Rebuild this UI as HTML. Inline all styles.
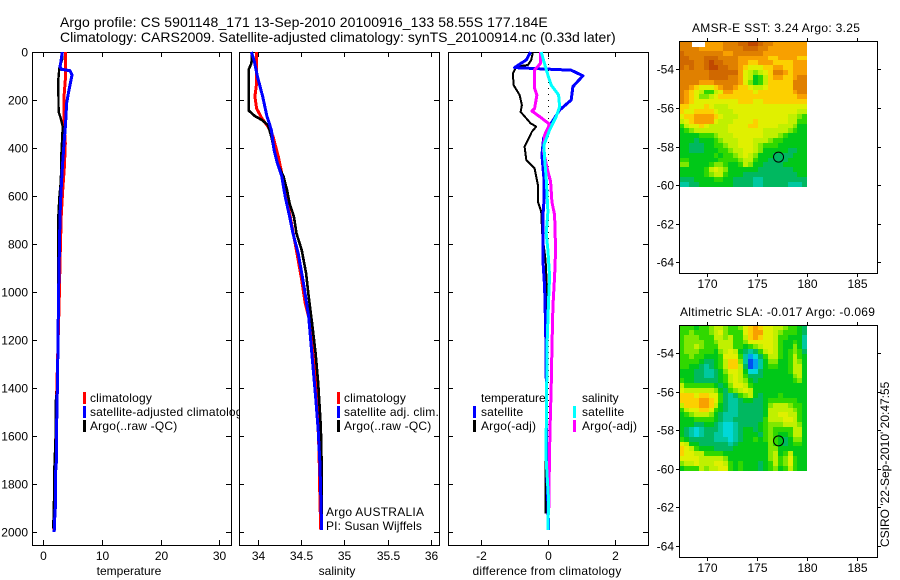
<!DOCTYPE html>
<html lang="en">
<head>
<meta charset="utf-8">
<title>Argo profile CS 5901148_171</title>
<style>
html,body{margin:0;padding:0;background:#fff;}
svg{display:block;}
text{font-family:"Liberation Sans",sans-serif;font-size:12px;fill:#000;}
.title{font-size:14px;}
.wide{letter-spacing:0.3px;}
</style>
</head>
<body>
<svg id="chart" xmlns="http://www.w3.org/2000/svg" width="900" height="580" viewBox="0 0 900 580">
<rect width="900" height="580" fill="#fff"/>
<text class="title" style="letter-spacing:0.09px" x="60" y="27">Argo profile: CS 5901148_171 13-Sep-2010 20100916_133 58.55S 177.184E</text>
<text class="title" x="60" y="42">Climatology: CARS2009. Satellite-adjusted climatology: synTS_20100914.nc (0.33d later)</text>
<text class="wide" x="692" y="32">AMSR-E SST: 3.24 Argo: 3.25</text>
<text class="wide" x="680" y="316">Altimetric SLA: -0.017 Argo: -0.069</text>
<text transform="translate(889,547) rotate(-90)">CSIRO '22-Sep-2010' 20:47:55</text>
</svg>
<script>
// ---------- axis tick data ----------
var depthTicks = [0,200,400,600,800,1000,1200,1400,1600,1800,2000];
var tempTicks = [0,10,20,30];
var salTicks = [34,34.5,35,35.5,36];
var diffTicks = [-2,0,2];
var lonTicks = [170,175,180,185];
var latTicks = [-54,-56,-58,-60,-62,-64];

// ---------- temperature panel ----------
var tempClimDepth = [0,117,186,283,380,478,575,686,875,1000,1500,2000];
var tempClimVals = [3.75,3.75,3.53,3.5,3.75,3.6,3.3,3.05,2.85,2.75,2.2,1.85];
var tempArgoDepth = [0,33,68,117,249,276,311,367,436,533,603,686,800,1000,1400,1460,1600,1730,1800,1960,1985];
var tempArgoVals = [3.24,3.2,2.73,2.56,2.6,2.96,3.3,3.2,3.05,3.0,2.75,2.56,2.5,2.55,2.39,2.1,2.1,1.9,1.9,1.72,1.72];
var tempSatDepth = [0,40,61,72,78,96,158,214,297,394,478,589,686,1000,1400,1500,1700,1750,1900,1950,2000];
var tempSatVals = [3.24,3.0,2.85,3.1,4.55,4.9,4.38,3.98,3.8,3.5,3.25,3.0,2.85,2.6,2.4,2.3,2.25,2.1,2.05,1.93,1.85];

// ---------- salinity panel ----------
var salClimDepth = [0,131,186,235,276,311,353,436,506,575,672,867,950,1047,1131,1269,1394,1672,1867,1992];
var salClimVals = [33.99,33.99,33.97,33.99,34.05,34.12,34.18,34.24,34.28,34.32,34.37,34.47,34.51,34.55,34.61,34.64,34.68,34.71,34.72,34.73];
var salArgoDepth = [0,47,72,244,267,283,304,353,422,464,519,575,631,686,756,825,922,1019,1131,1256,1380,1561,1728,1992];
var salArgoVals = [33.94,33.93,33.90,33.90,33.97,34.05,34.12,34.16,34.2,34.23,34.30,34.34,34.37,34.42,34.45,34.51,34.56,34.59,34.63,34.67,34.70,34.73,34.74,34.74];
var salSatDepth = [0,33,103,186,269,325,408,464,519,603,686,756,839,964,1103,1269,1436,1575,1714,1992];
var salSatVals = [33.93,33.96,34.0,34.06,34.11,34.16,34.19,34.23,34.28,34.32,34.37,34.41,34.47,34.53,34.59,34.63,34.67,34.70,34.72,34.74];

// ---------- difference panel ----------
var diffTempArgoDepth = [0,33,54,61,89,138,179,221,249,297,311,332,394,450,485,554,624,665,756,867,978,1172,1589,1728,1922];
var diffTempArgoVals = [-0.45,-0.5,-0.6,-0.95,-1.05,-1.03,-0.85,-0.78,-0.82,-0.52,-0.35,-0.48,-0.7,-0.65,-0.4,-0.3,-0.3,-0.2,-0.17,-0.07,-0.03,-0.07,-0.05,-0.07,-0.07];
var diffTempSatDepth = [0,33,65,76,99,144,200,242,297,360,429,526,624,686,867,978,1144,1311,1700,1992];
var diffTempSatVals = [-0.52,-0.65,-1.0,0.70,1.05,0.75,0.70,0.35,0.10,-0.13,-0.18,-0.12,-0.12,-0.15,-0.15,-0.1,-0.07,-0.05,-0.04,0.02];
var diffSalArgoDepth = [0,47,75,151,179,235,246,269,301,346,415,485,540,624,679,825,936,1061,1242,1394,1589,1839,1900];
var diffSalArgoVals = [-0.22,-0.22,-0.4,-0.4,-0.33,-0.4,-0.48,-0.25,0.05,-0.1,-0.13,-0.02,0.08,0.12,0.2,0.23,0.2,0.15,0.12,0.1,0.06,0.03,0.03];
var diffSalSatDepth = [0,40,96,138,179,228,269,325,388,443,526,665,756,825,936,1033,1200,1589,1700,1867,1992];
var diffSalSatVals = [-0.2,-0.12,0,0.1,0.32,0.35,0.25,0.05,-0.12,-0.1,-0.05,0,-0.05,0,0.05,0.02,-0.02,-0.05,-0.05,0.02,0];

// ---------- map data (colour-level per 0.5 degree cell, rows north to south) ----------
var sstLevels = [
[9,9,9,8,8,8,8,8,8,9,9,9,10,10,11,11,10,9,9,8,8,8,8,8,8,8],
[9,9,9,9,8,8,8,8,8,9,9,9,9,10,10,10,9,9,8,8,8,8,8,8,8,8],
[10,9,9,9,9,9,9,9,9,8,8,9,9,9,9,9,9,8,8,8,8,8,8,8,8,8],
[10,10,9,9,9,10,10,10,9,9,9,9,8,8,8,8,8,8,7,7,8,8,8,8,7,7],
[10,10,10,9,9,10,11,10,10,9,9,9,8,8,7,7,8,8,8,7,7,7,7,8,8,8],
[10,9,10,9,9,10,11,11,10,10,9,9,8,7,6,6,6,7,7,8,8,7,7,8,8,8],
[9,9,9,9,9,9,10,10,10,10,10,10,8,6,5,4,5,6,7,9,9,8,7,8,8,8],
[9,9,9,9,9,9,10,10,10,10,9,9,8,6,5,2,3,5,7,8,8,7,7,8,9,9],
[9,9,9,9,8,8,8,9,9,9,9,9,8,6,4,2,3,5,7,7,7,7,7,9,9,9],
[9,9,8,7,6,6,6,7,8,9,9,8,7,7,6,5,5,6,7,7,7,7,7,9,9,9],
[9,8,7,6,5,3,3,5,6,8,8,7,7,7,7,6,7,7,7,7,7,7,7,8,9,9],
[9,8,7,6,4,4,5,6,7,7,7,7,7,7,7,7,7,7,7,7,7,7,7,7,8,8],
[9,8,7,6,6,6,6,6,6,6,6,6,7,7,7,6,6,7,7,7,7,7,7,7,7,7],
[7,7,6,6,6,7,6,5,5,5,6,6,6,6,6,6,6,6,6,6,6,6,6,6,6,6],
[7,6,6,7,7,7,7,6,5,5,5,6,6,6,6,6,6,6,6,6,6,6,6,6,5,5],
[6,7,7,8,8,8,8,7,6,5,5,5,6,6,6,6,6,6,6,6,6,6,5,5,4,3],
[5,6,7,8,8,8,8,6,5,5,5,6,6,6,6,7,6,6,6,6,6,6,5,5,3,3],
[3,5,6,6,7,6,5,5,5,5,6,6,6,6,7,7,6,6,6,6,5,5,5,4,2,2],
[2,3,4,5,5,5,5,5,5,5,6,6,6,6,6,6,6,5,5,5,5,5,4,3,2,2],
[2,2,2,2,3,3,3,4,5,5,5,6,6,6,6,6,6,5,5,5,4,3,2,2,2,2],
[2,2,2,1,2,2,2,3,4,5,5,5,6,6,6,5,5,5,4,3,3,2,2,2,2,2],
[2,2,1,1,1,2,2,3,3,4,5,5,6,6,6,5,4,3,3,3,2,2,2,2,2,2],
[2,2,1,1,1,2,2,2,3,3,4,5,5,6,6,5,4,2,2,2,2,2,1,1,2,2],
[2,2,2,2,2,2,2,3,2,3,3,4,5,6,5,4,2,2,2,1,1,1,1,2,2,2],
[3,3,2,2,2,2,2,2,3,3,3,3,4,5,5,3,2,2,1,1,1,1,2,2,2,2],
[4,4,2,2,2,2,3,4,4,3,2,2,3,5,4,2,2,1,1,1,1,2,2,2,2,2],
[2,2,2,2,2,3,5,6,5,4,2,2,2,2,2,2,1,1,1,1,1,1,1,2,2,2],
[2,2,2,2,2,3,4,5,5,3,2,2,2,1,1,1,1,1,1,1,1,1,1,1,2,2],
[1,1,1,2,2,2,2,3,3,2,2,1,1,1,1,0,0,1,1,1,1,1,1,1,1,1],
[0,0,1,1,2,2,2,2,2,2,2,1,1,1,1,0,0,1,1,1,1,1,0,0,0,1]
];
var slaLevels = [
[3,3,3,2,3,3,4,5,5,4,3,3,4,6,7,8,7,6,6,5,5,4,3,3,2,1],
[3,3,4,3,3,3,4,5,6,4,3,3,3,6,7,8,8,6,6,5,4,3,3,3,2,1],
[3,4,4,4,3,3,3,5,5,4,5,3,3,5,7,8,7,6,6,5,3,3,2,2,2,0],
[3,4,4,4,4,3,3,4,5,5,5,3,3,4,6,6,6,6,6,5,3,2,2,3,2,0],
[3,4,4,5,4,3,3,3,5,5,5,3,3,2,3,4,5,6,6,5,3,2,2,4,2,0],
[3,4,4,4,3,3,3,2,4,5,6,5,2,1,0,1,3,5,6,5,3,2,3,4,3,1],
[3,3,4,3,3,2,2,2,3,6,6,6,3,0,-2,-1,1,3,5,5,3,2,3,5,3,2],
[3,3,3,3,2,1,1,2,3,5,7,7,4,0,-3,-2,0,2,4,4,2,2,3,5,4,2],
[3,3,2,2,1,0,1,2,3,5,7,7,5,1,-3,-2,0,2,3,3,2,2,3,5,5,2],
[2,2,2,1,1,0,0,1,2,4,6,6,5,2,-1,-1,1,2,2,2,2,2,3,5,5,2],
[2,2,2,1,1,0,0,1,2,3,5,6,5,3,1,1,1,2,2,2,2,2,2,4,5,2],
[3,2,2,1,1,1,1,1,2,3,5,6,5,4,2,1,2,2,2,2,2,2,2,3,4,2],
[5,3,3,3,3,3,3,2,1,2,4,6,6,5,3,2,2,2,2,2,2,2,2,2,2,2],
[6,5,5,5,5,5,5,4,2,1,3,4,5,6,5,2,2,2,2,2,2,2,2,2,2,2],
[7,7,7,6,7,7,6,6,3,1,0,1,3,4,5,2,1,2,2,2,3,2,2,2,2,2],
[7,7,7,7,8,8,7,6,3,1,0,0,1,2,2,1,1,2,3,3,3,3,3,3,2,2],
[5,7,7,7,8,8,7,5,2,1,0,0,1,1,1,1,1,2,4,5,5,5,4,3,3,2],
[3,5,6,6,7,7,6,3,2,1,0,0,1,1,1,1,1,2,5,5,5,5,5,4,3,2],
[2,3,4,5,5,5,4,2,1,0,0,0,1,1,1,1,1,2,5,5,6,6,5,5,3,2],
[2,2,2,3,3,3,3,2,1,0,0,1,1,1,1,1,1,3,5,5,5,6,6,5,3,2],
[2,2,2,1,1,2,2,1,0,-1,-1,0,1,1,1,1,2,3,4,4,4,5,5,5,4,2],
[2,1,0,-1,0,1,1,1,0,-1,-1,0,1,2,2,1,2,3,4,3,3,3,3,5,5,2],
[2,1,0,-1,0,1,1,0,0,-1,-1,0,1,2,2,2,1,3,4,3,2,2,3,5,5,2],
[3,2,1,1,1,1,1,0,0,0,-1,0,1,2,2,3,2,3,4,3,2,1,2,4,4,2],
[6,5,2,2,1,1,1,1,1,1,0,1,2,2,2,2,2,2,4,3,2,1,2,3,3,2],
[7,6,5,3,2,2,2,1,1,1,1,2,2,2,2,2,2,2,4,4,2,2,2,2,2,2],
[7,6,6,5,5,3,3,3,3,2,2,2,2,2,2,2,2,2,4,5,2,3,5,2,2,2],
[6,6,6,6,5,5,5,5,5,4,2,2,2,2,2,2,2,2,4,5,3,4,6,3,2,2],
[4,5,5,6,5,5,5,6,6,5,3,2,3,2,2,2,1,2,3,5,3,4,6,3,2,2],
[2,3,3,3,5,4,5,5,6,6,3,2,3,2,2,2,1,2,3,4,2,3,5,3,2,2]
];
var floatLon = 177.184;
var floatLat = -58.55;

var NS = 'http://www.w3.org/2000/svg';
var svg = document.getElementById('chart');

function mk(tag, attrs, parent) {
  var e = document.createElementNS(NS, tag);
  for (var k in attrs) { e.setAttribute(k, attrs[k]); }
  (parent || svg).appendChild(e);
  return e;
}
function linear(d0, r0, d1, r1) {
  return function (v) { return r0 + (v - d0) * (r1 - r0) / (d1 - d0); };
}
function label(txt, x, y, anchor, name, spacing) {
  var t = mk('text', {x: x, y: y, 'text-anchor': anchor || 'start'});
  t.textContent = txt;
  if (spacing) { t.style.letterSpacing = spacing + 'px'; }
  
  
  return t;
}
function tick(x1, y1, x2, y2, name) {
  var l = mk('line', {x1: x1, y1: y1, x2: x2, y2: y2, stroke: '#000', 'stroke-width': 1, 'shape-rendering': 'crispEdges'});
  
  
}

var yDepth = linear(0, 52, 2000, 532);
var top0 = 52, bot0 = 545;

function panel(name, left, right, xScale, xTicks, xTitle, xTitleX, showDepthLabels, titleSpacing) {
  var bg = mk('rect', {x: left, y: top0 - 1, width: right - left + 1, height: bot0 - top0 + 2, fill: '#fff'});
  
  
  var frame = mk('rect', {x: left + 0.5, y: top0 + 0.5, width: right - left, height: bot0 - top0, fill: 'none', stroke: '#000', 'stroke-width': 1, 'shape-rendering': 'crispEdges'});
  
  
  depthTicks.forEach(function (d) {
    var y = Math.round(yDepth(d)) + 0.5;
    tick(left, y, left + 5, y, name + '-depth-tick-left');
    tick(right - 5, y, right, y, name + '-depth-tick-right');
    if (showDepthLabels) { label(String(d), 28, y + 4, 'end', 'depth-tick-label'); }
  });
  xTicks.forEach(function (v) {
    var x = Math.round(xScale(v)) + 0.5;
    tick(x, top0, x, top0 + 5, name + '-x-tick-top');
    tick(x, bot0 - 5, x, bot0, name + '-x-tick-bottom');
    label(String(v), x, 560, 'middle', name + '-x-tick-label');
  });
  label(xTitle, xTitleX, 575, 'middle', name + '-x-axis-title', titleSpacing);
}
function series(name, depths, vals, xScale, color, width) {
  var pts = depths.map(function (d, i) { return xScale(vals[i]).toFixed(1) + ',' + yDepth(d).toFixed(1); }).join(' ');
  var p = mk('polyline', {points: pts, fill: 'none', stroke: color, 'stroke-width': width, 'stroke-linejoin': 'round', 'shape-rendering': 'crispEdges'});
  
  
}
function legendItem(name, barX, textX, y, color, txt) {
  var b = mk('rect', {x: barX, y: y - 6, width: 3, height: 12, fill: color, 'shape-rendering': 'crispEdges'});
  
  
  label(txt, textX, y + 4, 'start', name + '-label', 0.18);
}

// ----- temperature panel -----
var xTemp = linear(0, 43.3, 30, 219.3);
panel('temperature-panel', 32, 231, xTemp, tempTicks, 'temperature', 129, true);
series('temperature-climatology-line', tempClimDepth, tempClimVals, xTemp, '#ff0000', 3);
series('temperature-argo-line', tempArgoDepth, tempArgoVals, xTemp, '#000000', 2.4);
series('temperature-satellite-line', tempSatDepth, tempSatVals, xTemp, '#0000ff', 3);
legendItem('temperature-legend-climatology', 83, 90, 398, '#ff0000', 'climatology');
legendItem('temperature-legend-satellite', 83, 90, 412, '#0000ff', 'satellite-adjusted climatology');
legendItem('temperature-legend-argo', 83, 90, 426, '#000000', 'Argo(..raw -QC)');

// ----- salinity panel -----
var xSal = linear(34, 257.5, 36, 430.9);
panel('salinity-panel', 239, 439, xSal, salTicks, 'salinity', 337, false);
series('salinity-climatology-line', salClimDepth, salClimVals, xSal, '#ff0000', 3);
series('salinity-argo-line', salArgoDepth, salArgoVals, xSal, '#000000', 2.6);
series('salinity-satellite-line', salSatDepth, salSatVals, xSal, '#0000ff', 3);
legendItem('salinity-legend-climatology', 337, 344, 398, '#ff0000', 'climatology');
legendItem('salinity-legend-satellite', 337, 344, 412, '#0000ff', 'satellite adj. clim.');
legendItem('salinity-legend-argo', 337, 344, 426, '#000000', 'Argo(..raw -QC)');
label('Argo AUSTRALIA', 326, 516, 'start', 'float-program-label', 0.25);
label('PI: Susan Wijffels', 326, 530, 'start', 'principal-investigator-label', 0.12);

// ----- difference panel -----
var xDiff = linear(-2, 481.3, 2, 614.5);
panel('difference-panel', 448, 648, xDiff, diffTicks, 'difference from climatology', 547, false, 0.22);
var zero = mk('line', {x1: Math.round(xDiff(0)) + 0.5, y1: top0, x2: Math.round(xDiff(0)) + 0.5, y2: yDepth(depthTicks[depthTicks.length - 1]), stroke: '#000', 'stroke-width': 1, 'stroke-dasharray': '1 5', 'shape-rendering': 'crispEdges'});


series('difference-temperature-argo-line', diffTempArgoDepth, diffTempArgoVals, xDiff, '#000000', 2);
series('difference-temperature-satellite-line', diffTempSatDepth, diffTempSatVals, xDiff, '#0000ff', 3);
series('difference-salinity-argo-line', diffSalArgoDepth, diffSalArgoVals, xDiff, '#ff00ff', 3);
series('difference-salinity-satellite-line', diffSalSatDepth, diffSalSatVals, xDiff, '#00ffff', 3);
label('temperature', 481, 402, 'start', 'difference-legend-temperature-heading');
legendItem('difference-legend-temperature-satellite', 473, 481, 412, '#0000ff', 'satellite');
legendItem('difference-legend-temperature-argo', 473, 481, 426, '#000000', 'Argo(-adj)');
label('salinity', 582, 402, 'start', 'difference-legend-salinity-heading');
legendItem('difference-legend-salinity-satellite', 573, 582, 412, '#00ffff', 'satellite');
legendItem('difference-legend-salinity-argo', 573, 582, 426, '#ff00ff', 'Argo(-adj)');

// ----- maps -----
var colorLevels = ['#0050f0','#00a0f0','#00d8d8','#00c8a0','#00b860','#00c818','#30d800','#80e800','#c0f000','#e0f000','#fcd000','#f8a000','#e08000','#d06800','#c04800'];
function levelColor(v) {
  var i = Math.max(0, Math.min(colorLevels.length - 1, Math.round(v) + 3));
  return colorLevels[i];
}
function mapPanel(name, top, bottom, lat54Y, levels) {
  var left = 679, right = 877;
  var xLon = linear(170, 706.7, 180, 806.7);
  var yLat = linear(-54, lat54Y, -64, lat54Y + 193);
  var lon0 = 167.23, lat0 = -54 + (lat54Y - top) / 19.3;
  var dLon = 0.4935, dLat = 0.2518;
  levels.forEach(function (row, r) {
    row.forEach(function (v, c) {
      var x0 = Math.round(xLon(lon0 + c * dLon)), x1 = Math.round(xLon(lon0 + (c + 1) * dLon));
      var y0 = Math.round(yLat(lat0 - r * dLat)), y1 = Math.round(yLat(lat0 - (r + 1) * dLat));
      var cell = mk('rect', {x: x0, y: y0, width: x1 - x0, height: y1 - y0, fill: levelColor(v), 'shape-rendering': 'crispEdges'});
      
      
    });
  });
  var frame = mk('rect', {x: left + 0.5, y: top + 0.5, width: right - left, height: bottom - top, fill: 'none', stroke: '#000', 'stroke-width': 1, 'shape-rendering': 'crispEdges'});
  
  
  lonTicks.forEach(function (v) {
    var x = Math.round(xLon(v)) + 0.5;
    tick(x, top - 3, x, top, name + '-longitude-tick-top');
    tick(x, bottom + 1, x, bottom + 4, name + '-longitude-tick-bottom');
    label(String(v), x, bottom + 15, 'middle', name + '-longitude-label');
  });
  latTicks.forEach(function (v) {
    var y = Math.round(yLat(v)) + 0.5;
    tick(left - 3, y, left, y, name + '-latitude-tick-left');
    tick(right + 1, y, right + 4, y, name + '-latitude-tick-right');
    label(String(v), left - 5, y + 4, 'end', name + '-latitude-label');
  });
  var marker = mk('circle', {cx: xLon(floatLon), cy: yLat(floatLat), r: 5, fill: 'none', stroke: '#000', 'stroke-width': 1});
  
  
}
mapPanel('sst-map', 41, 273, 69.3, sstLevels);
mapPanel('sla-map', 325, 557, 353, slaLevels);
var whiteBox = mk('rect', {x: 692, y: 42, width: 13, height: 5, fill: '#fff', 'shape-rendering': 'crispEdges'});


</script>
</body>
</html>
